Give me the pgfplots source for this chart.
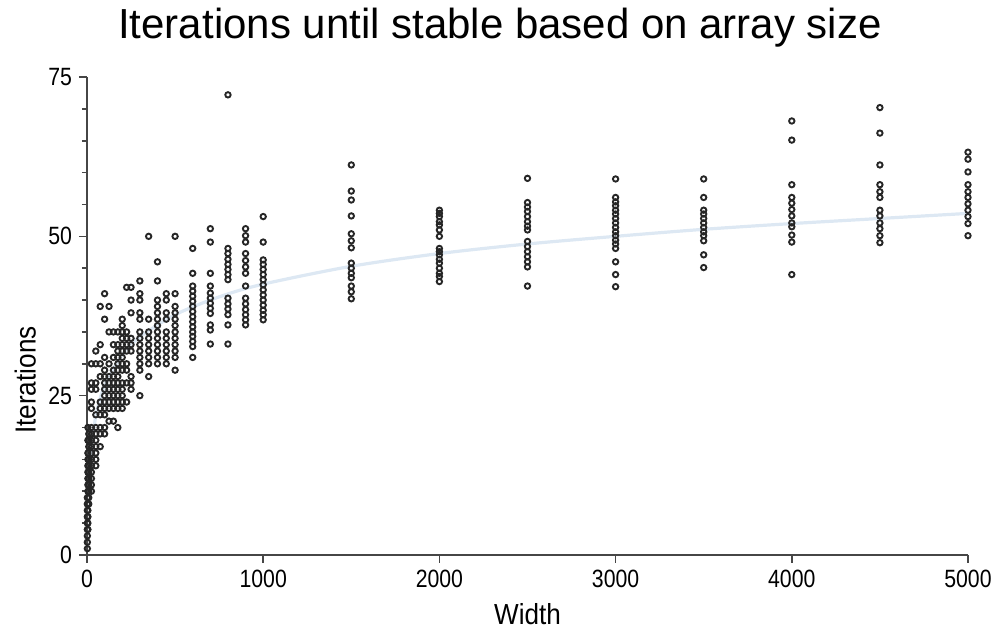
\documentclass[border=0pt]{standalone}
\usepackage{fontspec}
\setmainfont{Liberation Sans}
\newfontfamily\tickfont[FakeStretch=0.85]{Liberation Sans}
\newfontfamily\labfont[FakeStretch=0.9]{Liberation Sans}
\usepackage{pgfplots}
\pgfplotsset{compat=1.18}
\definecolor{fitline}{RGB}{221,232,243}
\definecolor{axisgray}{RGB}{70,70,70}

\begin{document}
\begin{tikzpicture}
\path[use as bounding box] (-43.5pt,-41pt) rectangle (455.5pt,277.5pt);
\begin{axis}[
  at={(0,0)}, anchor=south west,
  scale only axis, width=440.5pt, height=239pt,
  xmin=0, xmax=5000, ymin=0, ymax=75,
  axis x line*=bottom, axis y line*=left,
  axis line style={axisgray, line width=0.8pt},
  xtick={0,1000,...,5000}, ytick={0,25,50,75}, minor ytick={5,10,...,70},
  tick align=outside, tick style={axisgray, line width=0.8pt},
  major tick length=4pt, minor tick length=2.5pt,
  scaled x ticks=false,
  /pgf/number format/1000 sep={},
  /pgf/number format/assume math mode=true,
  tick label style={font=\tickfont\fontsize{12.5}{14}\selectfont},
  xlabel={Width}, ylabel={Iterations},
  label style={font=\labfont\fontsize{14.5}{17}\selectfont},
  xlabel style={at={(axis description cs:0.5,-0.123)}, anchor=center},
  ylabel style={at={(axis description cs:-0.07,0.366)}, anchor=center},
  clip=false,
]
% logarithmic trend line
\addplot[fitline, line width=1.6pt, smooth] coordinates {
 (20,15.5)(50,21.8)(100,26.6)(200,31.4)(300,34.2)(500,37.7)(750,40.5)
 (1000,42.5)(1500,45.3)(2000,47.3)(2500,48.8)(3000,50.0)(3500,51.1)
 (4000,52.0)(4500,52.8)(5000,53.6)};
\addplot[only marks, mark=o, mark size=1.35pt, mark options={black!85, line width=0.95pt}]
 table {
x y
2 1
2 2
2 3
2 4
2 5
2 6
2 7
2 8
2 9
5 4
5 5
5 6
5 7
5 8
5 9
5 10
5 11
5 12
5 13
5 14
5 15
5 16
5 18
5 20
10 8
10 9
10 10
10 11
10 12
10 13
10 14
10 15
10 17
10 18
10 19
25 10
25 11
25 12
25 13
25 14
25 15
25 16
25 17
25 18
25 19
25 20
25 23
25 24
25 26
25 27
25 30
50 14
50 15
50 16
50 17
50 18
50 19
50 20
50 22
50 26
50 27
50 30
50 32
75 17
75 19
75 20
75 22
75 23
75 24
75 28
75 30
75 33
75 39
100 19
100 20
100 22
100 23
100 24
100 25
100 26
100 27
100 28
100 29
100 31
100 37
100 41
125 21
125 23
125 24
125 25
125 26
125 27
125 28
125 30
125 35
125 39
150 21
150 23
150 24
150 25
150 26
150 27
150 28
150 29
150 31
150 33
150 35
175 20
175 23
175 24
175 25
175 26
175 27
175 28
175 29
175 30
175 31
175 32
175 33
175 35
200 23
200 24
200 25
200 26
200 27
200 29
200 30
200 31
200 32
200 33
200 34
200 35
200 36
200 37
225 24
225 27
225 29
225 30
225 32
225 33
225 34
225 35
225 42
250 26
250 27
250 28
250 32
250 33
250 34
250 38
250 40
250 42
300 25
300 29
300 30
300 31
300 32
300 33
300 34
300 35
300 37
300 38
300 40
300 41
300 43
350 28
350 30
350 31
350 32
350 33
350 34
350 35
350 37
350 50
400 30
400 31
400 32
400 33
400 34
400 35
400 36
400 37
400 38
400 39
400 40
400 43
400 46
450 30
450 31
450 32
450 33
450 34
450 35
450 37
450 38
450 40
450 41
500 29
500 31
500 32
500 33
500 34
500 35
500 36
500 37
500 38
500 39
500 41
500 50
600 31
600 32.7
600 33.5
600 34.3
600 35.0
600 35.8
600 36.6
600 37.4
600 38.2
600 39.0
600 39.8
600 40.6
600 41.4
600 42.2
600 44.2
600 48.1
700 33.1
700 35.3
700 36.1
700 37.9
700 38.7
700 39.5
700 40.3
700 41.1
700 42.2
700 44.2
700 49.1
700 51.2
800 33.1
800 36.1
800 37.7
800 38.6
800 39.4
800 40.3
800 43.2
800 44.0
800 44.8
800 45.6
800 46.4
800 47.3
800 48.1
800 72.2
900 36.1
900 36.9
900 37.7
900 38.5
900 39.4
900 40.3
900 42.2
900 44.2
900 45.2
900 46.2
900 47.3
900 49.1
900 50.1
900 51.2
1000 36.9
1000 37.7
1000 38.4
1000 39.2
1000 40.0
1000 40.8
1000 41.6
1000 42.4
1000 43.2
1000 44.0
1000 44.8
1000 45.6
1000 46.3
1000 49.1
1000 53.1
1500 40.2
1500 41.3
1500 42.2
1500 43.5
1500 44.2
1500 45.0
1500 45.8
1500 48.2
1500 49.3
1500 50.4
1500 53.2
1500 55.7
1500 57.1
1500 61.2
2000 42.9
2000 43.7
2000 44.2
2000 45.0
2000 45.8
2000 46.4
2000 47.1
2000 47.6
2000 48.1
2000 50.0
2000 51.0
2000 51.8
2000 52.3
2000 53.1
2000 53.6
2000 54.1
2500 42.2
2500 45.2
2500 46.0
2500 46.8
2500 47.6
2500 48.4
2500 49.2
2500 51.0
2500 51.6
2500 52.3
2500 53.1
2500 53.9
2500 54.6
2500 55.3
2500 59.1
3000 42.1
3000 44.0
3000 46.0
3000 48.1
3000 48.8
3000 49.4
3000 50.1
3000 50.7
3000 51.4
3000 52.1
3000 52.8
3000 53.5
3000 54.1
3000 54.8
3000 55.4
3000 56.1
3000 59.0
3500 45.1
3500 47.1
3500 49.3
3500 50.1
3500 50.7
3500 51.4
3500 52.1
3500 52.8
3500 53.5
3500 54.1
3500 56.1
3500 59.0
4000 44.0
4000 49.1
4000 50.2
4000 51.5
4000 52.1
4000 53.2
4000 54.2
4000 55.2
4000 56.1
4000 58.1
4000 65.1
4000 68.1
4500 49.0
4500 50.1
4500 51.2
4500 52.1
4500 53.2
4500 54.1
4500 56.1
4500 57.0
4500 58.1
4500 61.2
4500 66.2
4500 70.2
5000 50.1
5000 52.0
5000 53.1
5000 54.1
5000 55.1
5000 56.1
5000 57.0
5000 58.1
5000 60.1
5000 62.1
5000 63.2
};
\end{axis}
\node[font=\fontsize{21}{25}\selectfont] at (206.5pt,263.5pt) {Iterations until stable based on array size};
\end{tikzpicture}
\end{document}
